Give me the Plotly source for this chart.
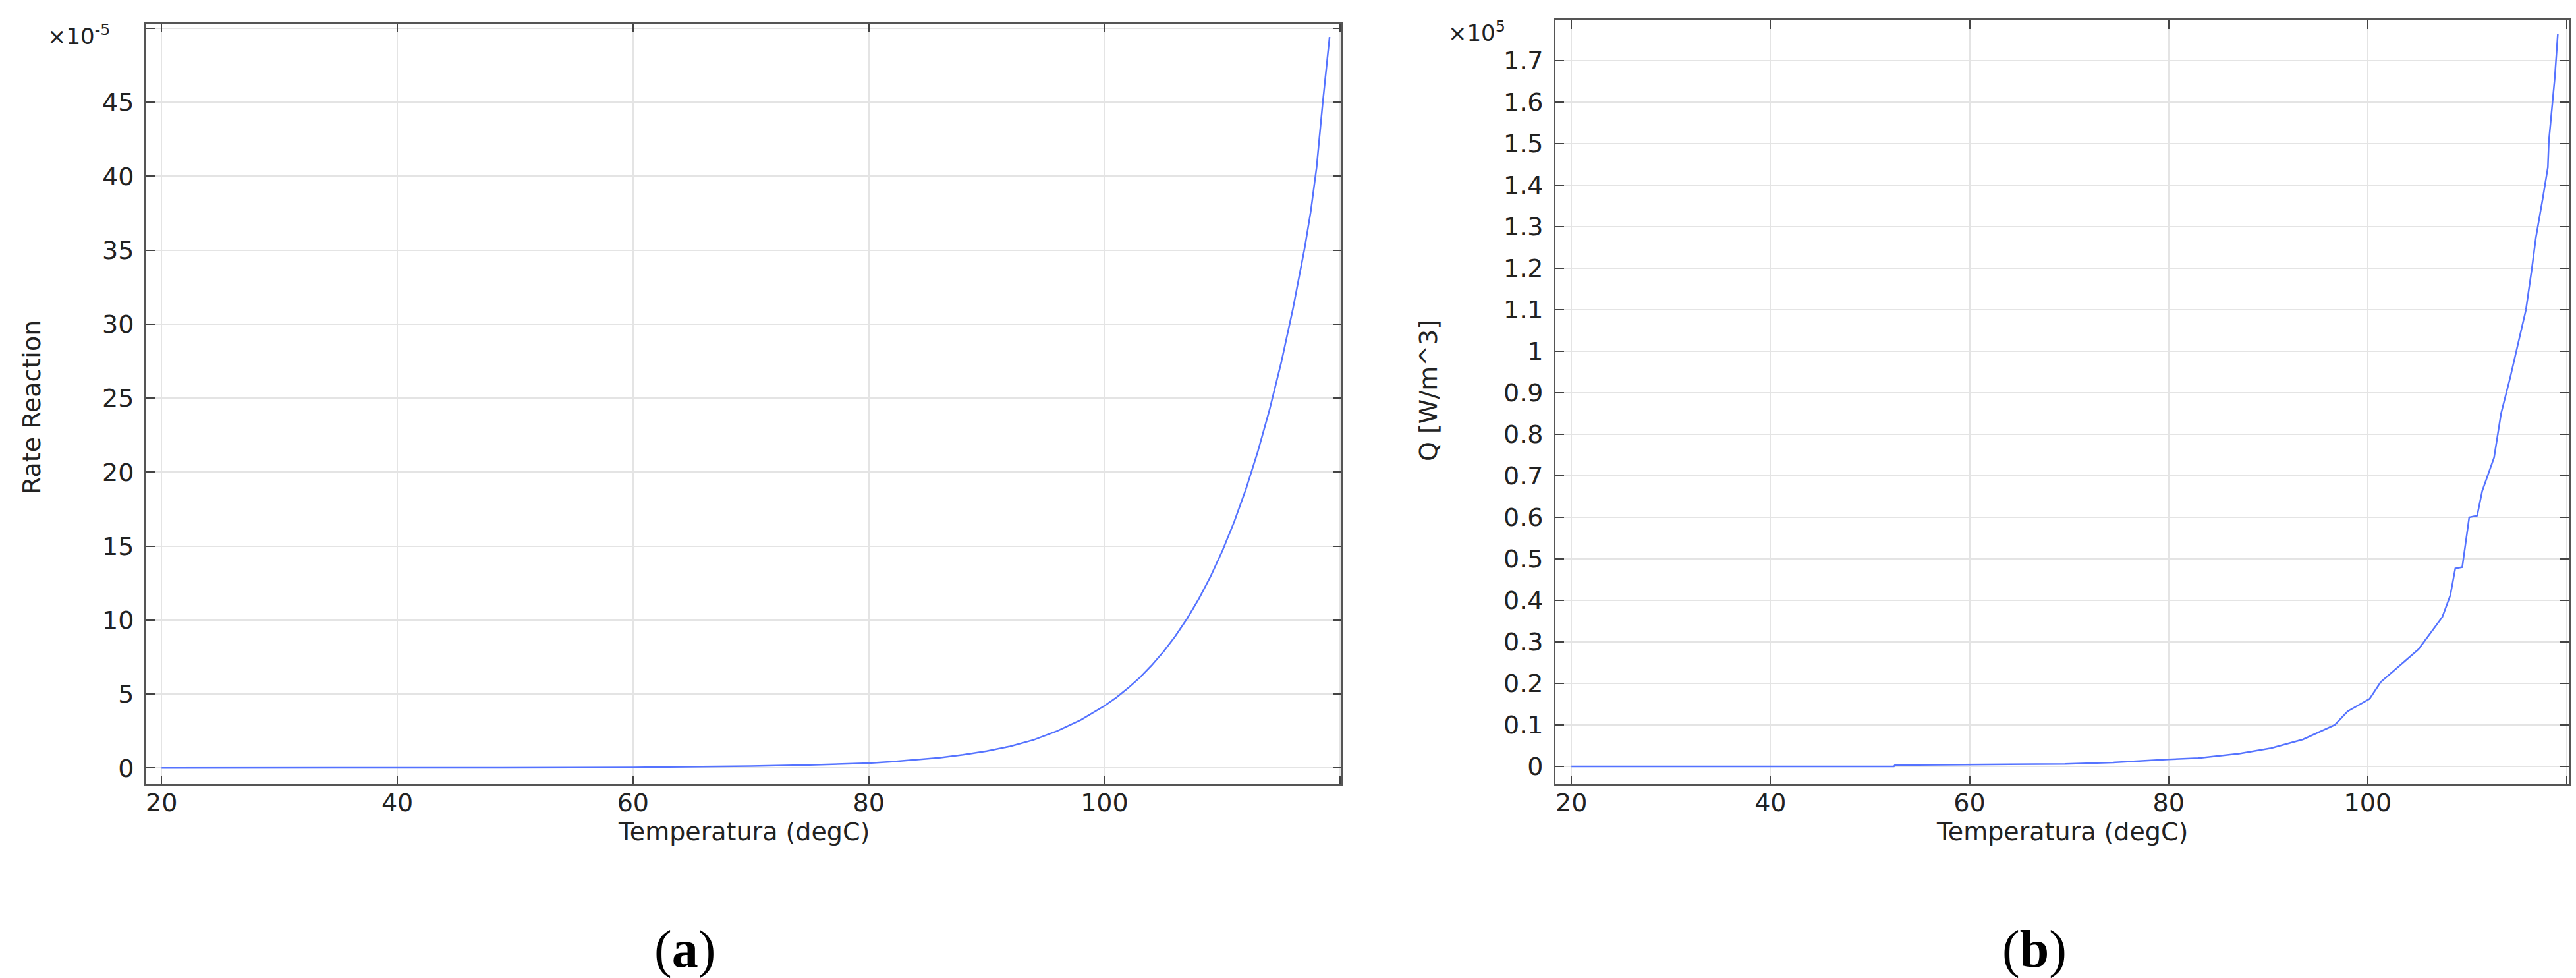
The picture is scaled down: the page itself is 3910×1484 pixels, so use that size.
import plotly.graph_objects as go

# Panel (a): reaction rate vs temperature (rate in units of 1e-5)
temp_a = [20, 30, 40, 50, 55, 60, 65, 70, 75, 80, 82, 84, 86, 88, 90, 92, 94, 96, 98,
          100, 101, 102, 103, 104, 105, 106, 107, 108, 109, 110, 111, 112, 113, 114,
          115, 116, 117, 117.5, 118.0, 118.5, 119.1]
rate_a = [0.0, 0.001, 0.003, 0.01, 0.02, 0.04, 0.07, 0.12, 0.2, 0.33, 0.42, 0.54, 0.69, 0.89,
          1.14, 1.46, 1.9, 2.5, 3.25,
          4.2, 4.76, 5.4, 6.11, 6.93, 7.85, 8.9, 10.08, 11.42, 12.94, 14.67, 16.62, 18.84,
          21.35, 24.19, 27.41, 31.06, 35.2, 37.6, 40.6, 44.8, 49.4]

# Panel (b): heat source Q vs temperature (Q in units of 1e5 W/m^3)
temp_b = [20, 52.4, 52.5, 69.6, 74.4, 77.6, 80, 83, 87.1, 90.3, 93.5, 96.7, 98.0,
          100.2, 101.3, 105.1, 107.5, 108.3, 108.8, 109.5, 110.2, 111.0, 111.5,
          112.7, 113.4, 114.3, 115.5, 115.9, 116.5, 116.9, 117.6, 118.1, 118.2,
          118.5, 118.8, 119.1]
q_b = [0.0, 0.0, 0.003, 0.006, 0.0095, 0.014, 0.017, 0.02, 0.031, 0.044, 0.065, 0.10, 0.133,
       0.163, 0.203, 0.282, 0.36, 0.412, 0.477, 0.48, 0.60, 0.604, 0.663,
       0.744, 0.85, 0.935, 1.06, 1.1, 1.2, 1.274, 1.37, 1.443, 1.506,
       1.59, 1.66, 1.764]

x_ticks = [20, 40, 60, 80, 100, 120]
x_ticktext = ["20", "40", "60", "80", "100", ""]
ya_ticks = [0, 5, 10, 15, 20, 25, 30, 35, 40, 45, 50]
ya_ticktext = ["0", "5", "10", "15", "20", "25", "30", "35", "40", "45", ""]
yb_ticks = [round(0.1 * i, 1) for i in range(18)]
yb_ticktext = ["0", "0.1", "0.2", "0.3", "0.4", "0.5", "0.6", "0.7", "0.8", "0.9",
               "1", "1.1", "1.2", "1.3", "1.4", "1.5", "1.6", "1.7"]

W, H = 3910, 1484
LINE = "#5573ff"
FONT = "DejaVu Sans"


def px_x(v):
    return v / W


def px_y(v):
    return 1 - v / H


fig = go.Figure()
fig.add_trace(go.Scatter(x=temp_a, y=rate_a, mode="lines", line=dict(color=LINE, width=2.5),
                         xaxis="x", yaxis="y", showlegend=False))
fig.add_trace(go.Scatter(x=temp_b, y=q_b, mode="lines", line=dict(color=LINE, width=2.5),
                         xaxis="x2", yaxis="y2", showlegend=False))

axis_style = dict(
    showline=True, linecolor="#555555", linewidth=3, mirror="ticks",
    ticks="inside", ticklen=13, tickwidth=2, tickcolor="#444444",
    showgrid=True, gridcolor="#e4e4e4", gridwidth=2, zeroline=False,
    tickfont=dict(family=FONT, size=38, color="#222222"),
)

fig.update_layout(
    width=W, height=H,
    margin=dict(l=0, r=0, t=0, b=0),
    paper_bgcolor="white", plot_bgcolor="white",
    xaxis=dict(domain=[px_x(214), px_x(2028)], range=[18.7, 120.1], anchor="y",
               tickvals=x_ticks, ticktext=x_ticktext, ticklabelstandoff=-8, **axis_style),
    yaxis=dict(domain=[px_y(1182), px_y(28)], range=[-1.1, 50.3], anchor="x",
               tickvals=ya_ticks, ticktext=ya_ticktext, ticklabelstandoff=8, **axis_style),
    xaxis2=dict(domain=[px_x(2353), px_x(3891)], range=[18.4, 120.2], anchor="y2",
                tickvals=x_ticks, ticktext=x_ticktext, ticklabelstandoff=-8, **axis_style),
    yaxis2=dict(domain=[px_y(1182), px_y(23)], range=[-0.043, 1.797], anchor="x2",
                tickvals=yb_ticks, ticktext=yb_ticktext, ticklabelstandoff=8, **axis_style),
)


def label(text, x, y, size=38, angle=0, xanchor="center", family=FONT, color="#222222"):
    fig.add_annotation(text=text, x=px_x(x), y=px_y(y), xref="paper", yref="paper",
                       showarrow=False, textangle=angle, xanchor=xanchor, yanchor="middle",
                       font=dict(family=family, size=size, color=color))


# axis titles and exponent labels
label("Rate Reaction", 40, 610, angle=-90)
label("Temperatura (degC)", 1121, 1254)
label("×10<sup>-5</sup>", 62, 45, size=34, xanchor="left")

label("Q [W/m^3]", 2160, 585, angle=-90)
label("Temperatura (degC)", 3122, 1254)
label("×10<sup>5</sup>", 2188, 40, size=34, xanchor="left")

# panel labels
label("(<b>a</b>)", 1031, 1432, size=80, family="Liberation Serif", color="black")
label("(<b>b</b>)", 3080, 1432, size=80, family="Liberation Serif", color="black")

fig.write_html("out.html")
